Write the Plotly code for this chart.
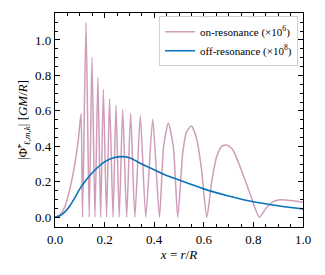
import plotly.graph_objects as go

# On-resonance (x1e6): points (zeros and lobe peaks)
on_x = [0.0, 0.02, 0.04, 0.06, 0.08, 0.095, 0.105, 0.111,
        0.125, 0.138, 0.149, 0.161, 0.173, 0.184, 0.195, 0.208,
        0.220, 0.234, 0.246, 0.259, 0.273, 0.289, 0.305, 0.322,
        0.344, 0.366, 0.394, 0.421, 0.438, 0.457, 0.477, 0.495,
        0.515, 0.530, 0.550, 0.570, 0.590, 0.612, 0.632, 0.652,
        0.672, 0.692, 0.715, 0.746, 0.786, 0.824, 0.850, 0.880,
        0.907, 0.950, 1.0]
on_y = [0.0, 0.015, 0.06, 0.16, 0.30, 0.45, 0.585, 0.0,
        1.098, 0.0, 0.902, 0.0, 0.789, 0.0, 0.722, 0.0,
        0.669, 0.0, 0.633, 0.0, 0.609, 0.0, 0.587, 0.0,
        0.571, 0.0, 0.554, 0.0, 0.40, 0.53, 0.40, 0.0,
        0.36, 0.48, 0.515, 0.45, 0.28, 0.0, 0.20, 0.342,
        0.40, 0.408, 0.385, 0.286, 0.135, 0.0, 0.05, 0.088,
        0.098, 0.095, 0.085]

# Off-resonance (x1e8)
off_x = [0.0, 0.02, 0.04, 0.06, 0.08, 0.10, 0.12, 0.16, 0.20, 0.24,
         0.27, 0.30, 0.35, 0.40, 0.45, 0.50, 0.55, 0.60, 0.70, 0.80,
         0.90, 1.0]
off_y = [0.0, 0.008, 0.03, 0.065, 0.11, 0.16, 0.20, 0.265, 0.312, 0.337,
         0.342, 0.335, 0.30, 0.268, 0.235, 0.21, 0.185, 0.16, 0.12, 0.087,
         0.065, 0.047]

x_ticks = [0.0, 0.2, 0.4, 0.6, 0.8, 1.0]
y_ticks = [0.0, 0.2, 0.4, 0.6, 0.8, 1.0]

PINK = "#CF9DBA"
BLUE = "#0A72BA"
FONT = "Liberation Serif"

fig = go.Figure()
fig.add_trace(go.Scatter(x=on_x, y=on_y, mode="lines",
                         line=dict(color=PINK, width=1.5, shape="spline", smoothing=0.6),
                         name="on-resonance (×10<sup>6</sup>)"))
fig.add_trace(go.Scatter(x=off_x, y=off_y, mode="lines",
                         line=dict(color=BLUE, width=1.6, shape="spline", smoothing=1.0),
                         name="off-resonance (×10<sup>8</sup>)"))

axis_common = dict(
    showline=True, linecolor="black", linewidth=1.2, mirror="ticks",
    ticks="inside", ticklen=5, tickwidth=1, tickcolor="black",
    showgrid=False, zeroline=False, automargin=False,
    tickfont=dict(family=FONT, size=13, color="black"),
)

fig.update_xaxes(range=[0, 1], tickvals=x_ticks,
                 ticktext=[f"{v:.1f}" for v in x_ticks],
                 minor=dict(ticks="inside", ticklen=3, dtick=0.05, tickcolor="black", tickwidth=1),
                 title=dict(text="<i>x</i> = <i>r</i>/<i>R</i>", font=dict(family=FONT, size=13, color="black"),
                            standoff=3),
                 **axis_common)
fig.update_yaxes(range=[-0.055, 1.152], tickvals=y_ticks,
                 ticktext=[f"{v:.1f}" for v in y_ticks],
                 minor=dict(ticks="inside", ticklen=3, dtick=0.05, tick0=0, tickcolor="black", tickwidth=1),
                 title=dict(text="|Φ̃′<sub><i>ℓ</i>,<i>m</i>,<i>k</i></sub>| [<i>GM</i>/<i>R</i>]",
                            font=dict(family=FONT, size=13, color="black"), standoff=4),
                 **axis_common)

# page body has an 8px default margin, so margins are offset to keep the
# plot area at the reference position
fig.update_layout(
    width=325, height=275,
    margin=dict(l=47, r=30, t=5, b=56),
    paper_bgcolor="white", plot_bgcolor="white",
    font=dict(family=FONT, color="black"),
    legend=dict(x=0.98, y=0.985, xanchor="right", yanchor="top",
                bgcolor="rgba(255,255,255,0.9)", bordercolor="#d0d0d0", borderwidth=1,
                font=dict(family=FONT, size=11, color="black"),
                itemwidth=30, tracegroupgap=0),
    showlegend=True,
)

fig.write_html("out.html")
